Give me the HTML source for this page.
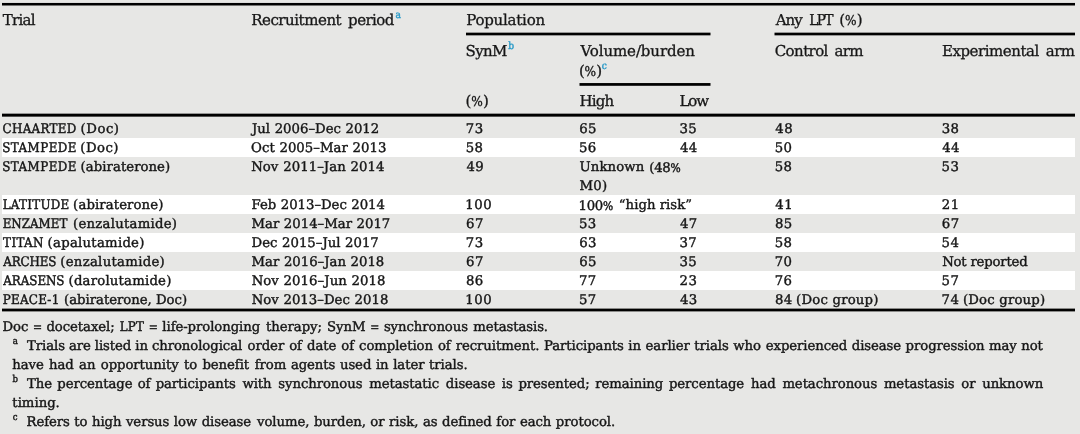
<!DOCTYPE html>
<html lang="en"><head><meta charset="utf-8"><title>Table</title>
<style>
html,body{margin:0;padding:0}
body{width:1080px;height:434px;background:#e7e7e5;overflow:hidden;position:relative}
.r{position:absolute;background:#000}
.s{position:absolute;left:2px;width:1073px;background:#fff}
.t{position:absolute;white-space:pre;line-height:20px;height:20px;font-family:'DejaVu Serif','Liberation Serif',serif;color:#161616;text-rendering:geometricPrecision;-webkit-text-stroke:0.4px;font-kerning:normal}
.h{font-size:15.0px;-webkit-text-stroke:.3px}.b{font-size:13.25px}.sp{font-size:10.1px;font-family:'DejaVu Serif Condensed','DejaVu Serif',serif}
.sg{font-size:9.5px}
.u{font-family:'DejaVu Serif Condensed','DejaVu Serif','Liberation Serif',serif}
.p{font-size:.9em}
.e{font-family:'Liberation Serif',serif;font-size:1.08em;line-height:1px;position:relative;top:1.2px;-webkit-text-stroke:0.55px}
</style></head>
<body>
<div class="s" style="top:138px;height:19px"></div>
<div class="s" style="top:195px;height:19px"></div>
<div class="s" style="top:233px;height:19px"></div>
<div class="s" style="top:271px;height:19px"></div>
<div class="r" style="left:2px;width:1073px;top:2px;height:1px;background:#dbdbda"></div>
<div class="r" style="left:2px;width:1073px;top:3px;height:2px;background:#000"></div>
<div class="r" style="left:2px;width:1073px;top:5px;height:1px;background:#747472"></div>
<div class="r" style="left:466px;width:244px;top:32px;height:1px;background:#969695"></div>
<div class="r" style="left:710px;width:1px;top:32px;height:1px;background:#bfbfbd"></div>
<div class="r" style="left:466px;width:244px;top:33px;height:2px;background:#000"></div>
<div class="r" style="left:710px;width:1px;top:33px;height:2px;background:#747472"></div>
<div class="r" style="left:466px;width:244px;top:35px;height:1px;background:#969695"></div>
<div class="r" style="left:710px;width:1px;top:35px;height:1px;background:#bfbfbd"></div>
<div class="r" style="left:775px;width:300px;top:32px;height:1px;background:#969695"></div>
<div class="r" style="left:774px;width:1px;top:32px;height:1px;background:#bfbfbd"></div>
<div class="r" style="left:775px;width:300px;top:33px;height:2px;background:#000"></div>
<div class="r" style="left:774px;width:1px;top:33px;height:2px;background:#747472"></div>
<div class="r" style="left:775px;width:300px;top:35px;height:1px;background:#969695"></div>
<div class="r" style="left:774px;width:1px;top:35px;height:1px;background:#bfbfbd"></div>
<div class="r" style="left:580px;width:130px;top:83px;height:1px;background:#0c0c0b"></div>
<div class="r" style="left:579px;width:1px;top:83px;height:1px;background:#797978"></div>
<div class="r" style="left:710px;width:1px;top:83px;height:1px;background:#797978"></div>
<div class="r" style="left:580px;width:130px;top:84px;height:1px;background:#000"></div>
<div class="r" style="left:579px;width:1px;top:84px;height:1px;background:#747472"></div>
<div class="r" style="left:710px;width:1px;top:84px;height:1px;background:#747472"></div>
<div class="r" style="left:580px;width:130px;top:85px;height:1px;background:#2e2e2e"></div>
<div class="r" style="left:579px;width:1px;top:85px;height:1px;background:#8b8b89"></div>
<div class="r" style="left:710px;width:1px;top:85px;height:1px;background:#8b8b89"></div>
<div class="r" style="left:2px;width:1073px;top:113px;height:1px;background:#969695"></div>
<div class="r" style="left:2px;width:1073px;top:114px;height:2px;background:#000"></div>
<div class="r" style="left:2px;width:1073px;top:116px;height:1px;background:#515150"></div>
<div class="r" style="left:2px;width:1073px;top:308px;height:1px;background:#8b8b89"></div>
<div class="r" style="left:2px;width:1073px;top:309px;height:2px;background:#000"></div>
<div class="r" style="left:2px;width:1073px;top:311px;height:1px;background:#8b8b89"></div>
<span class="t h" style="left:2.86px;top:9.74px;letter-spacing:-0.741px;">Trial</span>
<span class="t h" style="left:251.17px;top:9.74px;letter-spacing:-0.456px;">Recruitment</span>
<span class="t h" style="left:348.10px;top:9.74px;letter-spacing:-0.564px;">period</span>
<span class="t sp" style="left:395.57px;top:6.03px;letter-spacing:0.000px;color:#2a9bc8;">a</span>
<span class="t h" style="left:466.17px;top:9.74px;letter-spacing:-0.228px;">Population</span>
<span class="t h" style="left:775.65px;top:9.74px;letter-spacing:-0.947px;">Any</span>
<span class="t h" style="left:809.24px;top:9.74px;letter-spacing:-1.883px;"><span class="u" style="letter-spacing:-1.383px">LPT</span></span>
<span class="t h" style="left:839.21px;top:9.74px;letter-spacing:-0.144px;">(<span class="u p" style="letter-spacing:0.356px">%</span>)</span>
<span class="t h" style="left:465.51px;top:40.84px;letter-spacing:-0.626px;">SynM</span>
<span class="t sp" style="left:508.17px;top:36.93px;letter-spacing:0.000px;color:#2a9bc8;">b</span>
<span class="t h" style="left:580.41px;top:40.84px;letter-spacing:-0.096px;">Volume/burden</span>
<span class="t h" style="left:578.91px;top:60.64px;letter-spacing:-0.267px;">(<span class="u p" style="letter-spacing:0.233px">%</span>)</span>
<span class="t sp" style="left:601.79px;top:56.73px;letter-spacing:0.000px;color:#2a9bc8;">c</span>
<span class="t h" style="left:774.71px;top:40.84px;letter-spacing:-0.582px;">Control</span>
<span class="t h" style="left:834.49px;top:40.84px;letter-spacing:-0.636px;">arm</span>
<span class="t h" style="left:941.97px;top:40.84px;letter-spacing:-0.457px;">Experimental</span>
<span class="t h" style="left:1045.79px;top:40.84px;letter-spacing:-0.576px;">arm</span>
<span class="t h" style="left:465.61px;top:91.14px;letter-spacing:-0.267px;">(<span class="u p" style="letter-spacing:0.233px">%</span>)</span>
<span class="t h" style="left:579.47px;top:91.14px;letter-spacing:-0.826px;">High</span>
<span class="t h" style="left:679.47px;top:91.14px;letter-spacing:-1.099px;">Low</span>
<span class="t b" style="left:2.57px;top:120.05px;letter-spacing:-0.002px;"><span class="u" style="letter-spacing:0.298px">CHAARTED</span></span>
<span class="t b" style="left:80.62px;top:120.05px;letter-spacing:0.502px;">(Doc)</span>
<span class="t b" style="left:2.14px;top:139.09px;letter-spacing:0.160px;"><span class="u" style="letter-spacing:0.460px">STAMPEDE</span></span>
<span class="t b" style="left:80.32px;top:139.09px;letter-spacing:0.459px;">(Doc)</span>
<span class="t b" style="left:2.14px;top:158.13px;letter-spacing:0.160px;"><span class="u" style="letter-spacing:0.460px">STAMPEDE</span></span>
<span class="t b" style="left:80.62px;top:158.13px;letter-spacing:0.042px;">(abiraterone)</span>
<span class="t b" style="left:2.63px;top:196.21px;letter-spacing:-0.026px;"><span class="u" style="letter-spacing:0.274px">LATITUDE</span></span>
<span class="t b" style="left:73.12px;top:196.21px;letter-spacing:0.101px;">(abiraterone)</span>
<span class="t b" style="left:2.63px;top:215.25px;letter-spacing:-0.312px;"><span class="u" style="letter-spacing:-0.012px">ENZAMET</span></span>
<span class="t b" style="left:73.12px;top:215.25px;letter-spacing:0.237px;">(enzalutamide)</span>
<span class="t b" style="left:3.10px;top:234.29px;letter-spacing:0.052px;"><span class="u" style="letter-spacing:0.352px">TITAN</span></span>
<span class="t b" style="left:47.62px;top:234.29px;letter-spacing:0.253px;">(apalutamide)</span>
<span class="t b" style="left:3.34px;top:253.33px;letter-spacing:-0.476px;"><span class="u" style="letter-spacing:-0.176px">ARCHES</span></span>
<span class="t b" style="left:60.22px;top:253.33px;letter-spacing:0.293px;">(enzalutamide)</span>
<span class="t b" style="left:3.34px;top:272.37px;letter-spacing:-0.375px;"><span class="u" style="letter-spacing:-0.075px">ARASENS</span></span>
<span class="t b" style="left:68.52px;top:272.37px;letter-spacing:0.204px;">(darolutamide)</span>
<span class="t b" style="left:2.63px;top:291.41px;letter-spacing:-0.036px;"><span class="u" style="letter-spacing:0.264px">PEACE-1</span></span>
<span class="t b" style="left:64.12px;top:291.41px;letter-spacing:-0.031px;">(abiraterone, Doc)</span>
<span class="t b" style="left:252.03px;top:120.05px;letter-spacing:0.007px;word-spacing:0.322px;">Jul 2006–Dec 2012</span>
<span class="t b" style="left:251.03px;top:139.09px;letter-spacing:0.042px;word-spacing:0.427px;">Oct 2005–Mar 2013</span>
<span class="t b" style="left:251.14px;top:158.13px;letter-spacing:0.068px;word-spacing:0.505px;">Nov 2011–Jan 2014</span>
<span class="t b" style="left:251.56px;top:196.21px;letter-spacing:-0.017px;word-spacing:0.250px;">Feb 2013–Dec 2014</span>
<span class="t b" style="left:251.56px;top:215.25px;letter-spacing:-0.000px;word-spacing:0.300px;">Mar 2014–Mar 2017</span>
<span class="t b" style="left:251.56px;top:234.29px;letter-spacing:0.009px;word-spacing:0.328px;">Dec 2015–Jul 2017</span>
<span class="t b" style="left:251.56px;top:253.33px;letter-spacing:0.004px;word-spacing:0.312px;">Mar 2016–Jan 2018</span>
<span class="t b" style="left:251.64px;top:272.37px;letter-spacing:0.061px;word-spacing:0.482px;">Nov 2016–Jun 2018</span>
<span class="t b" style="left:251.64px;top:291.41px;letter-spacing:0.034px;word-spacing:0.403px;">Nov 2013–Dec 2018</span>
<span class="t b" style="left:465.80px;top:120.05px;letter-spacing:0.415px;">73</span>
<span class="t b" style="left:465.78px;top:139.09px;letter-spacing:0.415px;">58</span>
<span class="t b" style="left:466.42px;top:158.13px;letter-spacing:0.415px;">49</span>
<span class="t b" style="left:465.27px;top:196.21px;letter-spacing:0.504px;">100</span>
<span class="t b" style="left:466.04px;top:215.25px;letter-spacing:0.415px;">67</span>
<span class="t b" style="left:465.80px;top:234.29px;letter-spacing:0.415px;">73</span>
<span class="t b" style="left:466.04px;top:253.33px;letter-spacing:0.415px;">67</span>
<span class="t b" style="left:465.99px;top:272.37px;letter-spacing:0.415px;">86</span>
<span class="t b" style="left:465.27px;top:291.41px;letter-spacing:0.504px;">100</span>
<span class="t b" style="left:579.24px;top:120.05px;letter-spacing:0.415px;">65</span>
<span class="t b" style="left:578.98px;top:139.09px;letter-spacing:0.415px;">56</span>
<span class="t b" style="left:578.98px;top:215.25px;letter-spacing:0.415px;">53</span>
<span class="t b" style="left:579.24px;top:234.29px;letter-spacing:0.415px;">63</span>
<span class="t b" style="left:579.24px;top:253.33px;letter-spacing:0.415px;">65</span>
<span class="t b" style="left:579.00px;top:272.37px;letter-spacing:0.415px;">77</span>
<span class="t b" style="left:578.98px;top:291.41px;letter-spacing:0.415px;">57</span>
<span class="t b" style="left:679.50px;top:120.05px;letter-spacing:0.415px;">35</span>
<span class="t b" style="left:680.02px;top:139.09px;letter-spacing:0.415px;">44</span>
<span class="t b" style="left:680.02px;top:215.25px;letter-spacing:0.415px;">47</span>
<span class="t b" style="left:679.50px;top:234.29px;letter-spacing:0.415px;">37</span>
<span class="t b" style="left:679.50px;top:253.33px;letter-spacing:0.415px;">35</span>
<span class="t b" style="left:679.62px;top:272.37px;letter-spacing:0.415px;">23</span>
<span class="t b" style="left:680.02px;top:291.41px;letter-spacing:0.415px;">43</span>
<span class="t b" style="left:579.46px;top:158.13px;letter-spacing:0.120px;">Unknown</span>
<span class="t b" style="left:649.32px;top:158.13px;letter-spacing:-0.311px;">(48<span class="u p" style="letter-spacing:-0.011px">%</span></span>
<span class="t b" style="left:579.46px;top:177.17px;letter-spacing:0.309px;">M0)</span>
<span class="t b" style="left:578.47px;top:196.21px;letter-spacing:-0.267px;">100<span class="u p" style="letter-spacing:0.033px">%</span></span>
<span class="t b" style="left:618.77px;top:196.21px;letter-spacing:0.029px;">“high risk”</span>
<span class="t b" style="left:775.32px;top:120.05px;letter-spacing:0.415px;">48</span>
<span class="t b" style="left:774.68px;top:139.09px;letter-spacing:0.415px;">50</span>
<span class="t b" style="left:774.68px;top:158.13px;letter-spacing:0.415px;">58</span>
<span class="t b" style="left:775.32px;top:196.21px;letter-spacing:0.415px;">41</span>
<span class="t b" style="left:774.89px;top:215.25px;letter-spacing:0.415px;">85</span>
<span class="t b" style="left:774.68px;top:234.29px;letter-spacing:0.415px;">58</span>
<span class="t b" style="left:774.70px;top:253.33px;letter-spacing:0.415px;">70</span>
<span class="t b" style="left:774.70px;top:272.37px;letter-spacing:0.415px;">76</span>
<span class="t b" style="left:774.89px;top:291.41px;letter-spacing:0.415px;">84</span>
<span class="t b" style="left:796.12px;top:291.41px;letter-spacing:0.193px;">(Doc group)</span>
<span class="t b" style="left:941.70px;top:120.05px;letter-spacing:0.415px;">38</span>
<span class="t b" style="left:942.22px;top:139.09px;letter-spacing:0.415px;">44</span>
<span class="t b" style="left:941.58px;top:158.13px;letter-spacing:0.415px;">53</span>
<span class="t b" style="left:941.82px;top:196.21px;letter-spacing:0.415px;">21</span>
<span class="t b" style="left:941.84px;top:215.25px;letter-spacing:0.415px;">67</span>
<span class="t b" style="left:941.58px;top:234.29px;letter-spacing:0.415px;">54</span>
<span class="t b" style="left:941.58px;top:272.37px;letter-spacing:0.415px;">57</span>
<span class="t b" style="left:942.14px;top:253.33px;letter-spacing:-0.200px;">Not reported</span>
<span class="t b" style="left:941.60px;top:291.41px;letter-spacing:0.415px;">74</span>
<span class="t b" style="left:962.92px;top:291.41px;letter-spacing:0.189px;">(Doc group)</span>
<span class="t b" style="left:2.56px;top:317.70px;letter-spacing:-0.080px;word-spacing:0.936px;">Doc <span class="e">=</span> docetaxel; <span class="u" style="letter-spacing:0.200px">LPT</span> <span class="e">=</span> life-prolonging</span>
<span class="t b" style="left:266.10px;top:317.70px;letter-spacing:-0.080px;word-spacing:1.115px;">therapy; SynM <span class="e">=</span> synchronous metastasis.</span>
<span class="t sp sg" style="left:12.79px;top:331.79px;letter-spacing:0.000px;">a</span>
<span class="t b" style="left:27.09px;top:336.81px;letter-spacing:-0.080px;word-spacing:-0.120px;">Trials are listed in chronological</span>
<span class="t b" style="left:247.57px;top:336.81px;letter-spacing:-0.080px;word-spacing:0.940px;">order of date of completion of recruitment.</span>
<span class="t b" style="left:543.96px;top:336.81px;letter-spacing:-0.080px;word-spacing:0.433px;">Participants in earlier trials who</span>
<span class="t b" style="left:765.81px;top:336.81px;letter-spacing:-0.080px;word-spacing:0.378px;">experienced disease progression may not</span>
<span class="t b" style="left:12.24px;top:355.92px;letter-spacing:-0.080px;word-spacing:1.245px;">have had an opportunity to benefit</span>
<span class="t b" style="left:254.79px;top:355.92px;letter-spacing:-0.080px;word-spacing:0.519px;">from agents used in later trials.</span>
<span class="t sp sg" style="left:12.49px;top:370.01px;letter-spacing:0.000px;">b</span>
<span class="t b" style="left:27.09px;top:375.03px;letter-spacing:-0.080px;word-spacing:1.090px;">The percentage of participants</span>
<span class="t b" style="left:242.39px;top:375.03px;letter-spacing:-0.080px;word-spacing:2.684px;">with synchronous metastatic disease</span>
<span class="t b" style="left:501.79px;top:375.03px;letter-spacing:-0.080px;word-spacing:1.594px;">is presented; remaining percentage</span>
<span class="t b" style="left:750.99px;top:375.03px;letter-spacing:-0.080px;word-spacing:2.593px;">had metachronous metastasis or unknown</span>
<span class="t b" style="left:12.35px;top:394.14px;letter-spacing:-0.019px;">timing.</span>
<span class="t sp sg" style="left:12.82px;top:408.23px;letter-spacing:0.000px;">c</span>
<span class="t b" style="left:26.56px;top:413.25px;letter-spacing:-0.080px;word-spacing:0.399px;">Refers to high versus low disease</span>
<span class="t b" style="left:257.06px;top:413.25px;letter-spacing:-0.080px;word-spacing:0.450px;">volume, burden, or risk, as defined for each protocol.</span>
</body></html>
